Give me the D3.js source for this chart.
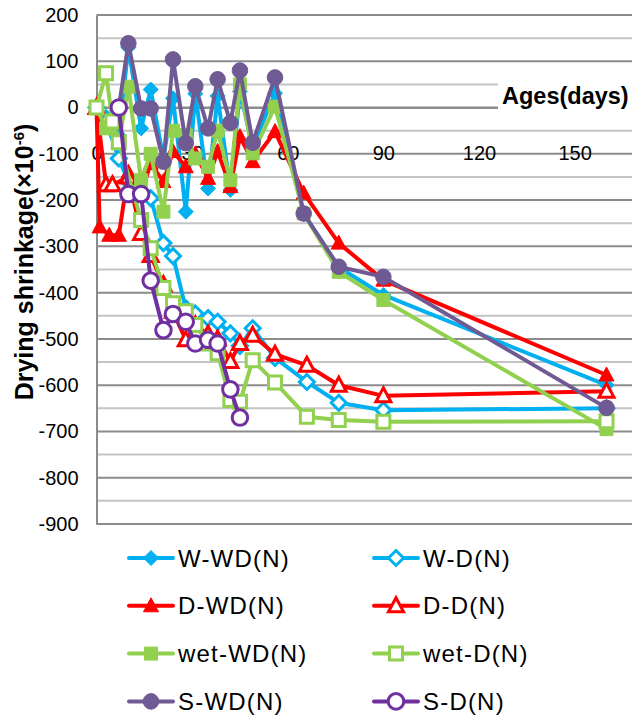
<!DOCTYPE html>
<html>
<head>
<meta charset="utf-8">
<script src="https://cdn.jsdelivr.net/npm/d3@7"></script>
<style>
  body { margin: 0; background: #fff; }
  svg { display: block; font-family: 'Liberation Sans', Arial, sans-serif; }
</style>
</head>
<body>
<div class="chart"></div>
<script>
// ---- data ----
const xTicks = [0, 30, 60, 90, 120, 150];
const yTicks = [200, 100, 0, -100, -200, -300, -400, -500, -600, -700, -800, -900];

const daysWWD = [0, 3, 7, 10, 14, 17, 21, 24, 28, 31, 35, 38, 42, 45, 49, 56, 65, 76, 90, 160];
const valsWWD = [0, -20, -60, 130, -45, 39, -110, 20, -225, 30, -175, 25, -178, 35, -85, 31, -230, -345, -405, -600];

const daysWD = [0, 3, 7, 10, 14, 17, 21, 24, 28, 31, 35, 38, 42, 45, 49, 56, 66, 76, 90, 160];
const valsWD = [0, -30, -110, -160, -185, -196, -293, -321, -434, -445, -455, -463, -488, -515, -477, -541, -593, -638, -654, -650];

const daysDWD = [0, 1, 4, 7, 10, 14, 17, 21, 24, 28, 31, 35, 38, 42, 45, 49, 56, 65, 76, 90, 160];
const valsDWD = [0, -258, -276, -276, -140, -185, -121, -160, -95, -128, -100, -153, -95, -171, -63, -117, -52, -185, -293, -373, -578];

const daysDD = [0, 3, 5, 10, 14, 17, 21, 24, 28, 31, 35, 38, 42, 45, 49, 56, 66, 76, 90, 160];
const valsDD = [0, -167, -167, -150, -272, -320, -383, -440, -502, -470, -490, -500, -549, -510, -492, -533, -557, -600, -623, -613];

const daysWetWD = [0, 3, 7, 10, 14, 17, 21, 24, 28, 31, 35, 38, 42, 45, 49, 56, 65, 76, 90, 160];
const valsWetWD = [0, -45, -75, 45, -157, -100, -225, -50, -60, -110, -128, -50, -157, 50, -99, 2, -229, -355, -416, -695];

const daysWetD = [0, 3, 5, 7, 14, 17, 21, 24, 28, 31, 35, 38, 42, 45, 49, 56, 66, 76, 90, 160];
const valsWetD = [0, 74, -30, -75, -243, -304, -390, -423, -440, -470, -510, -531, -632, -636, -546, -594, -668, -675, -679, -678];

const daysSWD = [7, 10, 14, 17, 21, 24, 28, 31, 35, 38, 42, 45, 49, 56, 65, 76, 90, 160];
const valsSWD = [0, 139, -2, -2, -117, 104, -77, 46, -45, 61, -33, 80, -76, 65, -229, -344, -366, -649];

const daysSD = [7, 10, 14, 17, 21, 24, 28, 31, 35, 38, 42, 45];
const valsSD = [0, -187, -187, -374, -481, -446, -463, -510, -502, -510, -609, -670];

const series = [
  { name: 'W-WD(N)', days: daysWWD, vals: valsWWD, color: '#00b0f0', shape: 'diamond', hollow: false },
  { name: 'W-D(N)', days: daysWD, vals: valsWD, color: '#00b0f0', shape: 'diamond', hollow: true },
  { name: 'D-WD(N)', days: daysDWD, vals: valsDWD, color: '#ff0000', shape: 'triangle', hollow: false },
  { name: 'D-D(N)', days: daysDD, vals: valsDD, color: '#ff0000', shape: 'triangle', hollow: true },
  { name: 'wet-WD(N)', days: daysWetWD, vals: valsWetWD, color: '#92d050', shape: 'square', hollow: false },
  { name: 'wet-D(N)', days: daysWetD, vals: valsWetD, color: '#92d050', shape: 'square', hollow: true },
  { name: 'S-WD(N)', days: daysSWD, vals: valsSWD, color: '#6f5a93', shape: 'circle', hollow: false },
  { name: 'S-D(N)', days: daysSD, vals: valsSD, color: '#7030a0', shape: 'circle', hollow: true },
];

// ---- layout ----
const width = 635;
const height = 719;

const svg = d3
  .select('.chart')
  .append('svg')
  .attr('width', width)
  .attr('height', height);

const xScale = d3.scaleLinear().domain([0, 168]).range([96.5, 632]);
const yScale = d3.scaleLinear().domain([-900, 200]).range([524, 15]);

// gridlines, every 50 (major every 100)
svg
  .append('g')
  .selectAll('line')
  .data(d3.range(-900, 201, 50))
  .join('line')
  .attr('x1', xScale(0))
  .attr('x2', 632)
  .attr('y1', (d) => yScale(d))
  .attr('y2', (d) => yScale(d))
  .attr('stroke', (d) => (d % 100 === 0 ? '#8c8c8c' : '#c4c4c4'))
  .attr('stroke-width', 2);

// y axis (plain hyphen for negatives, like the original)
const yAxis = d3
  .axisLeft(yScale)
  .tickValues(yTicks)
  .tickSize(0)
  .tickPadding(18)
  .tickFormat((d) => String(d));
const yAxisGroup = svg
  .append('g')
  .attr('transform', `translate(${xScale(0)}, 0)`)
  .call(yAxis);
yAxisGroup.select('.domain').attr('stroke', '#8c8c8c').attr('stroke-width', 2);
yAxisGroup
  .selectAll('text')
  .style('font-size', '20px')
  .style('font-family', "'Liberation Sans', Arial, sans-serif")
  .attr('fill', '#000');

// x axis at y = 0, labels pushed down under it
const xAxis = d3
  .axisBottom(xScale)
  .tickValues(xTicks)
  .tickSize(0)
  .tickPadding(38)
  .tickFormat((d) => String(d));
const xAxisGroup = svg
  .append('g')
  .attr('transform', `translate(0, ${yScale(0)})`)
  .call(xAxis);
xAxisGroup.select('.domain').attr('stroke', '#8c8c8c').attr('stroke-width', 2);
xAxisGroup
  .selectAll('text')
  .style('font-size', '20px')
  .style('font-family', "'Liberation Sans', Arial, sans-serif")
  .attr('fill', '#000');

// x axis title with white box
svg.append('rect').attr('x', 498).attr('y', 79).attr('width', 137).attr('height', 35).attr('fill', '#fff');
svg
  .append('text')
  .attr('x', 502)
  .attr('y', 104)
  .style('font-size', '23.5px')
  .style('font-weight', 'bold')
  .text('Ages(days)');

// y axis title
const yTitle = svg
  .append('text')
  .attr('transform', 'translate(33, 262) rotate(-90)')
  .attr('text-anchor', 'middle')
  .style('font-size', '25px')
  .style('font-weight', 'bold');
yTitle.append('tspan').text('Drying shrinkage(×10');
yTitle.append('tspan').attr('dy', -9).style('font-size', '15px').text('-6');
yTitle.append('tspan').attr('dy', 9).text(')');

// markers
const markerPath = (shape) => {
  if (shape === 'diamond') return 'M0,-7.5L7.5,0L0,7.5L-7.5,0Z';
  if (shape === 'triangle') return 'M0,-8L7.5,6L-7.5,6Z';
  if (shape === 'square') return 'M-6.5,-6.5H6.5V6.5H-6.5Z';
  return d3.symbol(d3.symbolCircle, 190)();
};

const drawMarker = (g, s, x, y) => {
  g.append('path')
    .attr('d', markerPath(s.shape))
    .attr('transform', `translate(${x}, ${y})`)
    .attr('fill', s.hollow ? '#fff' : s.color)
    .attr('stroke', s.color)
    .attr('stroke-width', s.hollow ? 3 : 1);
};

const line = d3
  .line()
  .x((d) => xScale(d[0]))
  .y((d) => yScale(d[1]));

series.forEach((s) => {
  const pts = s.days.map((d, i) => [d, s.vals[i]]);
  const g = svg.append('g');
  g.append('path')
    .attr('d', line(pts))
    .attr('fill', 'none')
    .attr('stroke', s.color)
    .attr('stroke-width', 4)
    .attr('stroke-linejoin', 'round');
  pts.forEach((p) => drawMarker(g, s, xScale(p[0]), yScale(p[1])));
});

// legend, two columns
const legend = svg.append('g');
series.forEach((s, i) => {
  const col = i % 2;
  const row = Math.floor(i / 2);
  const lx = col === 0 ? 129 : 374;
  const ly = 558 + row * 47.8;
  const g = legend.append('g');
  g.append('line')
    .attr('x1', lx)
    .attr('x2', lx + 44)
    .attr('y1', ly)
    .attr('y2', ly)
    .attr('stroke', s.color)
    .attr('stroke-width', 4)
    .attr('stroke-linecap', 'round');
  drawMarker(g, s, lx + 22, ly);
  g.append('text')
    .attr('x', lx + 49)
    .attr('y', ly)
    .attr('dy', '0.36em')
    .style('font-size', '24px')
    .style('letter-spacing', '1.2px')
    .text(s.name);
});
</script>
</body>
</html>
